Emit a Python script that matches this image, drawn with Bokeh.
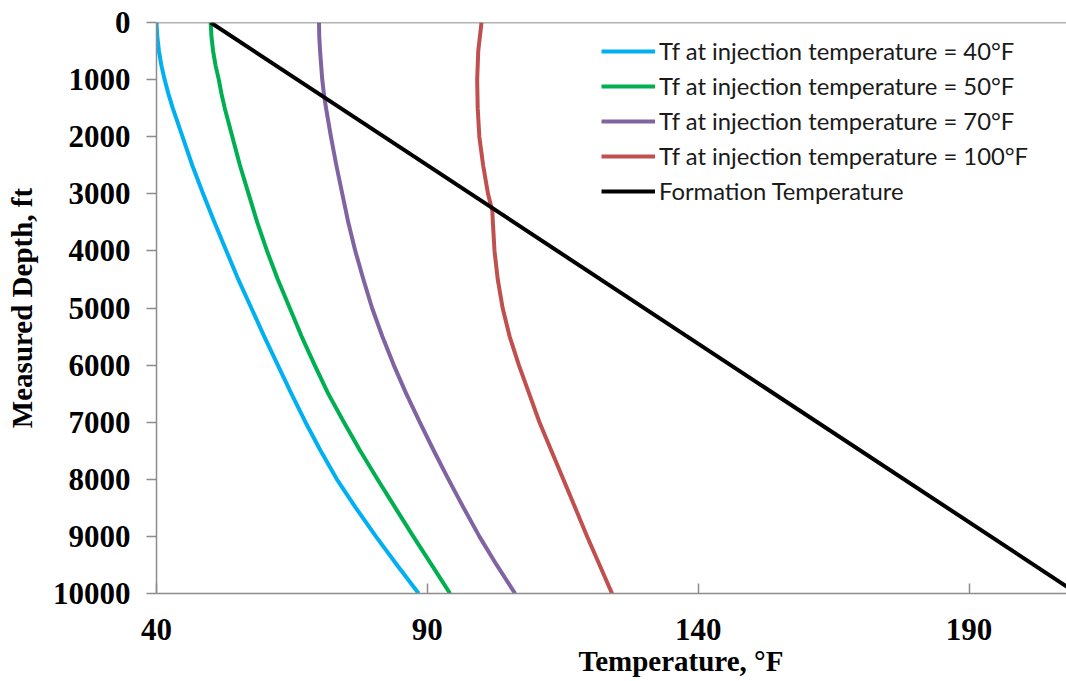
from bokeh.plotting import figure
from bokeh.models import Range1d, FixedTicker, Span, Legend, LegendItem, Title
from bokeh.embed import file_html
from bokeh.resources import INLINE

depth = [0, 250, 500, 750, 1000, 1250, 1500, 2000, 2500, 3000, 3500, 4000, 4500, 5000,
         5500, 6000, 6500, 7000, 7500, 8000, 8500, 9000, 9500, 10000]

tf_40 = [40.0, 40.15, 40.45, 40.9, 41.5, 42.2, 43.0, 44.8, 46.6, 48.6, 50.7, 52.9, 55.1, 57.5,
         59.9, 62.4, 64.9, 67.5, 70.3, 73.3, 76.8, 80.5, 84.4, 88.4]
tf_50 = [50.0, 50.15, 50.45, 50.9, 51.5, 52.0, 52.6, 54.0, 55.4, 57.0, 58.6, 60.4, 62.4, 64.6,
         66.8, 69.2, 71.7, 74.6, 77.6, 80.8, 84.1, 87.4, 90.8, 94.2]
tf_70 = [70.0, 70.05, 70.2, 70.4, 70.6, 70.9, 71.3, 72.2, 73.2, 74.3, 75.4, 76.7, 78.2, 79.8,
         81.7, 83.8, 86.1, 88.6, 91.2, 93.9, 96.7, 99.6, 102.8, 106.2]
depth_100 = [0, 250, 500, 1000, 1500, 2000, 2500, 3000, 3300, 3500, 4000, 4500, 5000,
             5500, 6000, 6500, 7000, 7500, 8000, 8500, 9000, 9500, 10000]
tf_100 = [100.0, 99.7, 99.4, 99.2, 99.3, 99.6, 100.3, 101.2, 102.0, 102.1, 102.4, 103.0, 103.9,
          105.2, 106.9, 108.8, 110.7, 112.9, 115.1, 117.3, 119.5, 121.8, 124.1]
form_depth = [0, 10000]
form_temp = [50.0, 210.0]

labels = ["Tf at injection temperature = 40°F",
          "Tf at injection temperature = 50°F",
          "Tf at injection temperature = 70°F",
          "Tf at injection temperature = 100°F",
          "Formation Temperature"]
colors = ["#00B0F0", "#00B050", "#8064A2", "#C0504D", "#000000"]
x_ticks = [40, 90, 140, 190]
y_ticks = [0, 1000, 2000, 3000, 4000, 5000, 6000, 7000, 8000, 9000, 10000]
x_title = "Temperature, °F"
y_title = "Measured Depth, ft"

p = figure(width=1066, height=681, output_backend="svg", toolbar_location=None,
           x_range=Range1d(40, 208), y_range=Range1d(10000, 0),
           min_border_left=156, min_border_right=0, min_border_top=22,
           min_border_bottom=88)
p.outline_line_color = None
p.xgrid.visible = False
p.ygrid.visible = False
p.background_fill_color = "white"
p.border_fill_color = "white"

series = [(tf_40, depth), (tf_50, depth), (tf_70, depth), (tf_100, depth_100),
          (form_temp, form_depth)]
renderers = []
for (xs, ys), c in zip(series, colors):
    r = p.line(xs, ys, line_color=c, line_width=4, line_join="round")
    renderers.append(r)

top_line = Span(location=0, dimension="width", line_color="#666666", line_width=1.5)
p.add_layout(top_line)

serif = "Liberation Serif"
for ax in (p.xaxis[0], p.yaxis[0]):
    ax.axis_line_color = "#8c8c8c"
    ax.axis_line_width = 1.5
    ax.major_tick_line_color = "#8c8c8c"
    ax.major_tick_line_width = 1.5
    ax.minor_tick_line_color = None
    ax.major_label_text_font = serif
    ax.major_label_text_font_style = "bold"
    ax.major_label_text_font_size = "31px"
    ax.major_label_text_color = "black"
    ax.axis_label_text_font = serif
    ax.axis_label_text_font_style = "bold"
    ax.axis_label_text_font_size = "29px"
    ax.axis_label_text_color = "black"

p.xaxis.ticker = FixedTicker(ticks=x_ticks)
p.yaxis.ticker = FixedTicker(ticks=y_ticks)
p.xaxis.major_tick_in = 10
p.xaxis.major_tick_out = 0
p.yaxis.major_tick_in = 0
p.yaxis.major_tick_out = 10
p.xaxis.major_label_standoff = 25
p.yaxis.major_label_standoff = 16
p.yaxis.axis_label = y_title
p.yaxis.axis_label_standoff = 12

xtitle = Title(text=x_title, align="left", offset=422, standoff=0,
               text_font=serif, text_font_style="bold", text_font_size="29px",
               text_color="black")
p.add_layout(xtitle, "below")

legend = Legend(items=[LegendItem(label=l, renderers=[r]) for l, r in zip(labels, renderers)],
                location=(445, 388))
legend.border_line_color = None
legend.background_fill_alpha = 0
legend.padding = 0
legend.margin = 0
legend.spacing = 7
legend.glyph_width = 54
legend.glyph_height = 20
legend.label_height = 20
legend.label_standoff = 4
legend.label_text_font = "Lato"
legend.label_text_font_size = "23.8px"
legend.label_text_color = "#1a1a1a"
p.add_layout(legend)

open("out.html", "w").write(file_html(p, INLINE))
